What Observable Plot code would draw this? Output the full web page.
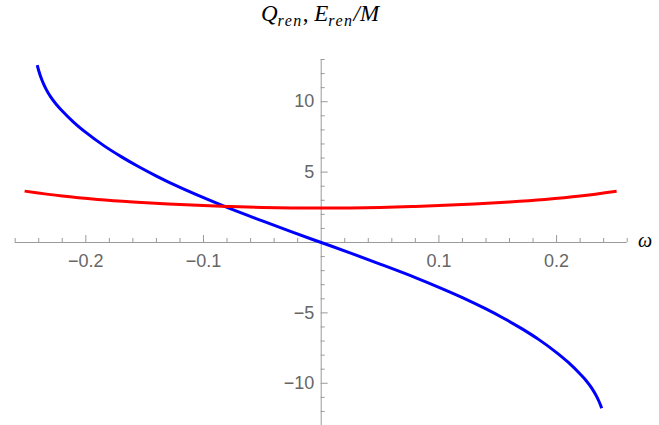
<!DOCTYPE html>
<html>
<head>
<meta charset="utf-8">
<script src="https://cdn.jsdelivr.net/npm/d3@7"></script>
<script src="https://cdn.jsdelivr.net/npm/@observablehq/plot@0.6"></script>
<style>
  body { margin: 0; background: #fff; }
  #chart { width: 659px; height: 425px; }
</style>
</head>
<body>
<div id="chart"></div>
<script>
// Renormalised charge Q_ren (blue) and energy E_ren/M (red) against frequency ω
const omegaQ = [-0.2413, -0.240, -0.2373, -0.234, -0.230, -0.225, -0.220, -0.210, -0.200, -0.185,
                -0.170, -0.155, -0.140, -0.120, -0.100, -0.080, -0.050, -0.025, 0,
                0.025, 0.050, 0.080, 0.100, 0.120, 0.140, 0.155, 0.170, 0.185, 0.200,
                0.210, 0.220, 0.225, 0.230, 0.234, 0.2373, 0.2383];
const chargeQ = [12.6, 12.2, 11.54, 10.93, 10.36, 9.8, 9.34, 8.52, 7.82, 6.9,
                 6.1, 5.38, 4.72, 3.91, 3.18, 2.49, 1.53, 0.75, 0,
                 -0.75, -1.53, -2.49, -3.18, -3.91, -4.72, -5.38, -6.1, -6.9, -7.82,
                 -8.52, -9.34, -9.8, -10.36, -10.93, -11.54, -11.77];

const omegaE = [-0.252, -0.22, -0.19, -0.16, -0.13, -0.10, -0.08, -0.05, 0,
                0.05, 0.08, 0.10, 0.13, 0.16, 0.19, 0.22, 0.251];
const energyE = [3.65, 3.3, 3.06, 2.88, 2.74, 2.62, 2.56, 2.49, 2.45,
                 2.49, 2.56, 2.62, 2.74, 2.88, 3.06, 3.3, 3.64];

// Axis ticks and their labels
const xMajorTicks = [-0.2, -0.1, 0.1, 0.2];
const xTickLabels = ["\u22120.2", "\u22120.1", "0.1", "0.2"];
const xMinorTicks = [-0.26, -0.24, -0.22, -0.18, -0.16, -0.14, -0.12, -0.08, -0.06, -0.04, -0.02,
                     0.02, 0.04, 0.06, 0.08, 0.12, 0.14, 0.16, 0.18, 0.22, 0.24, 0.26];
const yMajorTicks = [-10, -5, 5, 10];
const yTickLabels = ["\u221210", "\u22125", "5", "10"];
const yMinorTicks = [-13, -12, -11, -9, -8, -7, -6, -4, -3, -2, -1, 1, 2, 3, 4, 6, 7, 8, 9, 11, 12, 13];

const qSeries = omegaQ.map((w, i) => ({w, v: chargeQ[i]}));
const eSeries = omegaE.map((w, i) => ({w, v: energyE[i]}));
const xLabelRows = xMajorTicks.map((v, i) => ({v, label: xTickLabels[i]}));
const yLabelRows = yMajorTicks.map((v, i) => ({v, label: yTickLabels[i]}));

const axisColor = "#9a9a9a";
const labelColor = "#666666";
const labelFont = "Liberation Sans";

const chart = Plot.plot({
  width: 659,
  height: 425,
  marginLeft: 14.7,
  marginRight: 32.3,
  marginTop: 59,
  marginBottom: 0,
  x: {domain: [-0.26, 0.26], axis: null},
  y: {domain: [-13, 13], axis: null},
  marks: [
    // axes through the origin
    Plot.ruleY([0], {stroke: axisColor, strokeWidth: 1}),
    Plot.ruleX([0], {stroke: axisColor, strokeWidth: 1}),
    // ticks on the ω axis (pointing up)
    Plot.ruleX(xMinorTicks, {x: d => d, y1: () => 0, y2: () => 0, insetTop: -4, stroke: axisColor}),
    Plot.ruleX(xMajorTicks, {x: d => d, y1: () => 0, y2: () => 0, insetTop: -7, stroke: axisColor}),
    // ticks on the vertical axis (pointing right)
    Plot.ruleY(yMinorTicks, {y: d => d, x1: () => 0, x2: () => 0, insetRight: -4, stroke: axisColor}),
    Plot.ruleY(yMajorTicks, {y: d => d, x1: () => 0, x2: () => 0, insetRight: -7, stroke: axisColor}),
    // tick labels
    Plot.text(xLabelRows, {x: "v", y: () => 0, text: "label", dy: 19, fill: labelColor,
      fontFamily: labelFont, fontSize: 18}),
    Plot.text(yLabelRows, {x: () => 0, y: "v", text: "label", dx: -7, textAnchor: "end",
      fill: labelColor, fontFamily: labelFont, fontSize: 18}),
    // curves
    Plot.line(qSeries, {x: "w", y: "v", stroke: "#0000ff", strokeWidth: 3,
      curve: "monotone-x", strokeLinecap: "butt"}),
    Plot.line(eSeries, {x: "w", y: "v", stroke: "#ff0000", strokeWidth: 3,
      curve: "monotone-x", strokeLinecap: "butt"})
  ]
});

document.getElementById("chart").appendChild(chart);

// Axis titles with subscripts
const svg = d3.select(chart);
const title = svg.append("text")
  .attr("x", 320)
  .attr("y", 21)
  .attr("text-anchor", "middle")
  .attr("fill", "#000")
  .style("font-family", "'Liberation Serif', serif")
  .style("font-style", "italic")
  .style("font-size", "23px");
const parts = [["Q", false], ["ren", true], [", ", false], ["E", false], ["ren", true], ["/M", false]];
let shifted = false;
for (const [s, sub] of parts) {
  const t = title.append("tspan").text(s);
  if (sub && !shifted) { t.attr("dy", 5); shifted = true; }
  else if (!sub && shifted) { t.attr("dy", -5); shifted = false; }
  if (sub) t.style("font-size", "16px").style("letter-spacing", "1.5px");
  if (s === ", ") t.style("font-style", "normal");
}

svg.append("text")
  .attr("x", 645)
  .attr("y", 247)
  .attr("fill", "#000")
  .style("font-family", "'Liberation Serif', serif")
  .style("font-style", "italic")
  .style("font-size", "20px")
  .text("ω");
</script>
</body>
</html>
